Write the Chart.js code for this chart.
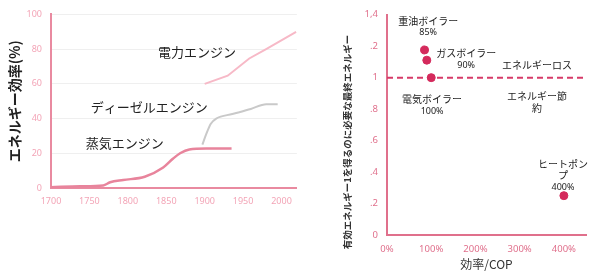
<!DOCTYPE html>
<html lang="ja">
<head>
<meta charset="UTF-8">
<script src="https://cdn.jsdelivr.net/npm/chart.js"></script>
<title>エネルギー効率</title>
<style>
  body { margin: 0; background: #fff; }
  #left { position: absolute; left: 0; top: 0; }
  #right { position: absolute; left: 300px; top: 0; }
</style>
</head>
<body>
<canvas id="left" width="300" height="278"></canvas>
<canvas id="right" width="299" height="278"></canvas>
<script>
// 左: エネルギー効率の推移
const steamYears = [1700, 1738, 1768, 1777, 1794, 1822, 1846, 1859, 1868, 1880, 1902, 1935];
const steamEff = [0.5, 1, 1.5, 3.3, 4.6, 6.5, 11.8, 17, 20, 22.2, 22.7, 22.7];
const dieselYears = [1897, 1902, 1908, 1915, 1936, 1960, 1980, 1995];
const dieselEff = [25, 31, 37, 40, 42.6, 45.5, 48.3, 48.3];
const electricYears = [1900, 1930, 1958, 1980, 2019];
const electricEff = [60, 64.7, 74.6, 80, 90];
const yearTicks = [1700, 1750, 1800, 1850, 1900, 1950, 2000];
const effTicks = [0, 20, 40, 60, 80, 100];
const engineNames = ['蒸気エンジン', 'ディーゼルエンジン', '電力エンジン'];

// 右: 効率/COP
const boilerNames = ['重油ボイラー', 'ガスボイラー', '電気ボイラー', 'ヒートポンプ'];
const cop = [85, 90, 100, 400];
const finalEnergy = [1.176, 1.111, 1.0, 0.25];
const copTicks = [0, 100, 200, 300, 400];
const copTickLabels = ['0%', '100%', '200%', '300%', '400%'];
const energyTicks = [0, 0.2, 0.4, 0.6, 0.8, 1.0, 1.2, 1.4];
const energyTickLabels = ['0', '.2', '.4', '.6', '.8', '1', '.2', '1,4'];
const breakEven = 1;

const jp = '"Noto Sans CJK JP", "Noto Sans", sans-serif';
const num = '"Noto Sans", "DejaVu Sans", sans-serif';

function pts(xs, ys) { return xs.map((x, i) => ({x: x, y: ys[i]})); }

// テキスト描画プラグイン
const labelPlugin = {
  id: 'labels',
  afterDatasetsDraw(chart, args, opts) {
    const ctx = chart.ctx, xs = chart.scales.x, ys = chart.scales.y;
    ctx.save();
    ctx.textAlign = 'center';
    ctx.textBaseline = 'middle';
    (opts.items || []).forEach(it => {
      ctx.font = it.font;
      ctx.fillStyle = it.color || '#222';
      ctx.fillText(it.text, xs.getPixelForValue(it.x), ys.getPixelForValue(it.y));
    });
    if (opts.yTitle) {
      const t = opts.yTitle;
      ctx.translate(t.cx, t.cy);
      ctx.rotate(-Math.PI / 2);
      ctx.font = t.font;
      ctx.fillStyle = '#333';
      ctx.fillText(t.text, 0, 0);
    }
    ctx.restore();
  }
};

new Chart(document.getElementById('left'), {
  type: 'line',
  data: {
    datasets: [
      { label: engineNames[0], data: pts(steamYears, steamEff), borderColor: '#e8849c', borderWidth: 2.5, cubicInterpolationMode: 'monotone' },
      { label: engineNames[1], data: pts(dieselYears, dieselEff), borderColor: '#c9c9c9', borderWidth: 2, cubicInterpolationMode: 'monotone' },
      { label: engineNames[2], data: pts(electricYears, electricEff), borderColor: '#f7b9c7', borderWidth: 2, tension: 0 }
    ]
  },
  options: {
    responsive: false,
    animation: false,
    layout: { padding: { top: 12, right: 3, left: 0, bottom: 0 } },
    elements: { point: { radius: 0 } },
    plugins: {
      legend: { display: false },
      tooltip: { enabled: false },
      labels: {
        items: [
          { text: engineNames[2], x: 1890, y: 78.4, font: '13px ' + jp },
          { text: engineNames[1], x: 1828, y: 46.6, font: '13px ' + jp },
          { text: engineNames[0], x: 1796, y: 25.6, font: '13px ' + jp }
        ]
      }
    },
    scales: {
      x: {
        type: 'linear', min: 1700, max: 2020,
        afterFit(s) { s.height = 90; },
        afterBuildTicks(s) { s.ticks = yearTicks.map(v => ({value: v})); },
        grid: { display: false, drawTicks: false },
        border: { color: '#e98aa0', width: 2 },
        ticks: { color: '#f3a5b7', font: { family: num, size: 9 }, padding: 8, maxRotation: 0,
          callback: v => String(v) }
      },
      y: {
        min: 0, max: 100,
        afterFit(s) { s.width = 51; },
        afterBuildTicks(s) { s.ticks = effTicks.map(v => ({value: v})); },
        grid: { color: '#efefef', drawTicks: false },
        border: { color: '#e98aa0', width: 2 },
        ticks: { color: '#f3a5b7', font: { family: num, size: 9 }, padding: 9 },
        title: { display: true, text: 'エネルギー効率(%)', color: '#222', font: { family: jp, size: 14, weight: 'bold' }, padding: { top: 6, bottom: 0 } }
      }
    }
  },
  plugins: [labelPlugin]
});

new Chart(document.getElementById('right'), {
  type: 'scatter',
  data: {
    datasets: [
      { label: 'ボイラー', data: pts(cop, finalEnergy), backgroundColor: '#d42a5c', borderColor: '#d42a5c', pointRadius: 4 },
      { type: 'line', label: 'ref', data: [{x: 0, y: breakEven}, {x: 450, y: breakEven}], borderColor: '#d63a68', borderWidth: 2, borderDash: [6, 4], pointRadius: 0 }
    ]
  },
  options: {
    responsive: false,
    animation: false,
    layout: { padding: { top: 11, right: 13, left: 0, bottom: 0 } },
    plugins: {
      legend: { display: false },
      tooltip: { enabled: false },
      labels: {
        items: [
          { text: boilerNames[0], x: 93, y: 1.36, font: '10px ' + jp },
          { text: '85%', x: 93, y: 1.29, font: '9px ' + num },
          { text: boilerNames[1], x: 179, y: 1.156, font: '10px ' + jp },
          { text: '90%', x: 179, y: 1.08, font: '9px ' + num },
          { text: 'エネルギーロス', x: 339, y: 1.08, font: '10px ' + jp },
          { text: boilerNames[2], x: 102, y: 0.8625, font: '10px ' + jp },
          { text: '100%', x: 102, y: 0.7875, font: '9px ' + num },
          { text: 'エネルギー節', x: 339, y: 0.88, font: '10px ' + jp },
          { text: '約', x: 339, y: 0.806, font: '10px ' + jp },
          { text: 'ヒートポン', x: 398, y: 0.45, font: '10px ' + jp },
          { text: 'プ', x: 398, y: 0.38, font: '10px ' + jp },
          { text: '400%', x: 398, y: 0.30, font: '9px ' + num }
        ],
        yTitle: { text: '有効エネルギー1を得るのに必要な最終エネルギー', cx: 47, cy: 142, font: 'bold 9.5px ' + jp }
      }
    },
    scales: {
      x: {
        type: 'linear', min: 0, max: 450,
        afterFit(s) { s.height = 43; },
        afterBuildTicks(s) { s.ticks = copTicks.map(v => ({value: v})); },
        grid: { display: false, drawTicks: false },
        border: { color: '#e0708c', width: 2 },
        ticks: { color: '#e0708c', font: { family: num, size: 9.5 }, padding: 9, maxRotation: 0,
          callback: (v, i) => copTickLabels[i] },
        title: { display: true, text: '効率/COP', color: '#333', font: { family: jp, size: 12 }, padding: { top: 0, bottom: 6 } }
      },
      y: {
        min: 0, max: 1.4,
        afterFit(s) { s.width = 87; },
        afterBuildTicks(s) { s.ticks = energyTicks.map(v => ({value: v})); },
        grid: { display: false, drawTicks: false },
        border: { color: '#e0708c', width: 2 },
        ticks: { color: '#e0708c', font: { family: num, size: 9.5 }, padding: 9,
          callback: (v, i) => energyTickLabels[i] }
      }
    }
  },
  plugins: [labelPlugin]
});
</script>
</body>
</html>
